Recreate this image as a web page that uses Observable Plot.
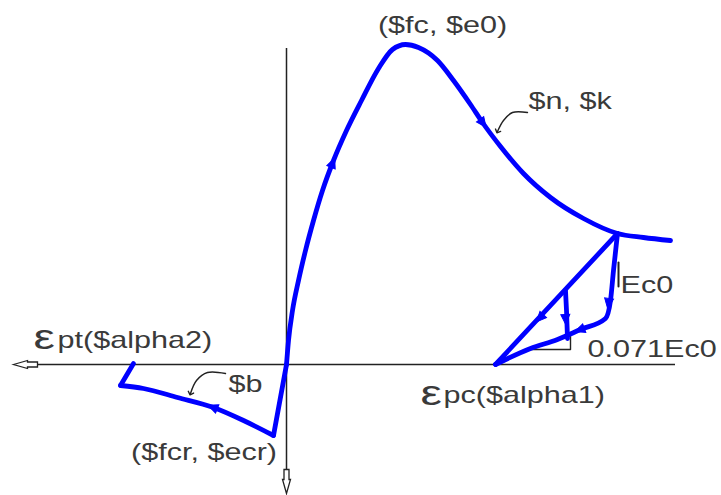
<!DOCTYPE html>
<html><head><meta charset="utf-8">
<script src="https://cdn.jsdelivr.net/npm/d3@7"></script>
<script src="https://cdn.jsdelivr.net/npm/@observablehq/plot@0.6"></script>
<style>html,body{margin:0;padding:0;background:#fff;} svg{display:block}</style>
</head><body><div id="chart"></div>
<script>
// ---- data (strain, stress) in arbitrary normalized units ----
const tensionUnload = [[-1.53, 0.01], [-1.66, -0.21]];
const tensionSoftening = [[-1.66, -0.21], [-1.43, -0.24], [-1.09, -0.33], [-0.73, -0.43], [-0.43, -0.56], [-0.13, -0.71]];
const tensionPrePeak = [[-0.13, -0.71], [0, 0]];
const envelope = [[0, 0], [0.02, 0.24], [0.06, 0.54], [0.12, 0.84], [0.19, 1.14], [0.27, 1.44], [0.36, 1.74], [0.47, 2.04],
  [0.60, 2.34], [0.75, 2.64], [0.92, 2.96], [1.06, 3.15], [1.19, 3.20], [1.32, 3.17], [1.51, 3.04], [1.67, 2.84], [1.84, 2.60],
  [1.96, 2.42], [2.14, 2.18], [2.37, 1.91], [2.64, 1.67], [2.97, 1.46], [3.31, 1.31], [3.57, 1.27], [3.84, 1.24]];
const unloadLine = [[3.31, 1.31], [2.09, 0]];
const reloadCurve = [[2.09, 0], [2.44, 0.16], [2.71, 0.25], [2.94, 0.35], [3.19, 0.46], [3.24, 0.64], [3.27, 0.94], [3.31, 1.31]];
const innerLoop = [[2.79, 0.74], [2.80, 0.54], [2.81, 0.26]];
// direction markers along the loading path: position and tangent
const flowMarks = [
  {x: 0.46, y: 2.01, dx: 0.30, dy: 0.75},
  {x: 1.96, y: 2.42, dx: 0.18, dy: -0.24},
  {x: -0.73, y: -0.43, dx: -0.5, dy: 0.2},
  {x: 2.54, y: 0.47, dx: -1.22, dy: -1.30},
  {x: 2.94, y: 0.35, dx: -0.27, dy: -0.10},
  {x: 3.22, y: 0.62, dx: -0.03, dy: -0.2},
  {x: 2.79, y: 0.46, dx: 0.01, dy: -0.2}
];
// annotation guide marks
const ec0Tick = [[3.32, 1.02], [3.32, 0.78]];
const slopeTriangle = [[2.42, 0.15], [2.84, 0.15], [2.84, 0.28]];
const pointerNK = [[2.41, 2.52], [2.26, 2.52], [2.17, 2.44], [2.11, 2.33]];
const pointerB = [[-0.61, -0.09], [-0.79, -0.08], [-0.90, -0.16], [-0.96, -0.29]];
// axes extents
const xAxisExtent = [-2.59, 3.89];
const yAxisExtent = [-1.06, 3.16];
const axisTips = [{x: -2.73, y: 0, dir: "left"}, {x: 0, y: -1.29, dir: "down"}];
// labels
const labelsMiddle = [
  {x: 1.56, y: 3.39, text: "($fc, $e0)"},
  {x: -0.825, y: -0.886, text: "($fcr, $ecr)"}
];
const labelsStart = [
  {x: 2.42, y: 2.63, text: "$n, $k"},
  {x: 3.34, y: 0.785, text: "Ec0"},
  {x: 3.01, y: 0.145, text: "0.071Ec0"},
  {x: 1.57, y: -0.315, text: "pc($alpha1)"},
  {x: -2.29, y: 0.235, text: "pt($alpha2)"},
  {x: -0.58, y: -0.205, text: "$b"}
];
const epsilonLabels = [
  {x: 1.34, y: -0.285, text: "ε"},
  {x: -2.53, y: 0.275, text: "ε"}
];

// ---- styles ----
const BLUE = "#0000ff";
const INK = "#222";
const TXT = "#3a3a3a";
const flowSymbol = {draw(ctx) { ctx.moveTo(0, -6); ctx.lineTo(4.5, 4); ctx.lineTo(-4.5, 4); ctx.closePath(); }};
const axisSymbol = {draw(ctx) {
  ctx.moveTo(0, 0); ctx.lineTo(4, 14); ctx.lineTo(2.5, 14); ctx.lineTo(2.5, 24);
  ctx.lineTo(-2.5, 24); ctx.lineTo(-2.5, 14); ctx.lineTo(-4, 14); ctx.closePath();
}};
const blueLine = (data, curve) => Plot.line(data, {x: d => d[0], y: d => d[1], stroke: BLUE, strokeWidth: 4.8, curve, strokeLinejoin: "round", strokeLinecap: "round"});
const inkLine = (data, extra = {}) => Plot.line(data, {x: d => d[0], y: d => d[1], stroke: INK, strokeWidth: 1.4, ...extra});

const chart = Plot.plot({
  width: 721, height: 495, margin: 0,
  x: {domain: [-2.86, 4.35], axis: null},
  y: {domain: [-1.31, 3.64], axis: null},
  style: {background: "#fff", fontFamily: "'Liberation Sans', Arial, sans-serif"},
  marks: [
    Plot.ruleY([0], {x1: xAxisExtent[0], x2: xAxisExtent[1], stroke: INK, strokeWidth: 1.5}),
    Plot.ruleX([0], {y1: yAxisExtent[0], y2: yAxisExtent[1], stroke: INK, strokeWidth: 1.5}),
    Plot.dot(axisTips.filter(d => d.dir === "left"), {x: "x", y: "y", symbol: axisSymbol, rotate: -90, fill: "#fff", stroke: INK, strokeWidth: 1.3}),
    Plot.dot(axisTips.filter(d => d.dir === "down"), {x: "x", y: "y", symbol: axisSymbol, rotate: 180, fill: "#fff", stroke: INK, strokeWidth: 1.3}),
    inkLine(ec0Tick, {strokeWidth: 2}),
    inkLine(slopeTriangle),
    inkLine(pointerNK, {curve: "catmull-rom", markerEnd: "arrow"}),
    inkLine(pointerB, {curve: "catmull-rom", markerEnd: "arrow"}),
    blueLine(tensionUnload, "linear"),
    blueLine(tensionSoftening, "monotone-x"),
    blueLine(tensionPrePeak, "linear"),
    blueLine(envelope, "monotone-x"),
    blueLine(unloadLine, "linear"),
    blueLine(reloadCurve, "monotone-x"),
    blueLine(innerLoop, "linear"),
    Plot.dot(flowMarks, {x: "x", y: "y", symbol: flowSymbol, rotate: d => Math.atan2(d.dx, d.dy) * 180 / Math.PI, fill: BLUE, stroke: BLUE, strokeWidth: 1}),
    Plot.text(labelsMiddle, {x: "x", y: "y", text: "text", textAnchor: "middle", lineAnchor: "middle", fontSize: 23, fill: TXT}),
    Plot.text(labelsStart, {x: "x", y: "y", text: "text", textAnchor: "start", lineAnchor: "middle", fontSize: 23, fill: TXT}),
    Plot.text(epsilonLabels, {x: "x", y: "y", text: "text", textAnchor: "start", lineAnchor: "middle", fontSize: 36, fill: TXT})
  ]
});
// horizontally stretched lettering as in the reference
chart.querySelectorAll('g[aria-label="text"] text').forEach(t => {
  const tr = t.getAttribute("transform") || "";
  t.setAttribute("transform", tr + " scale(1.33,1)");
});
document.getElementById("chart").appendChild(chart);
</script>
</body></html>
